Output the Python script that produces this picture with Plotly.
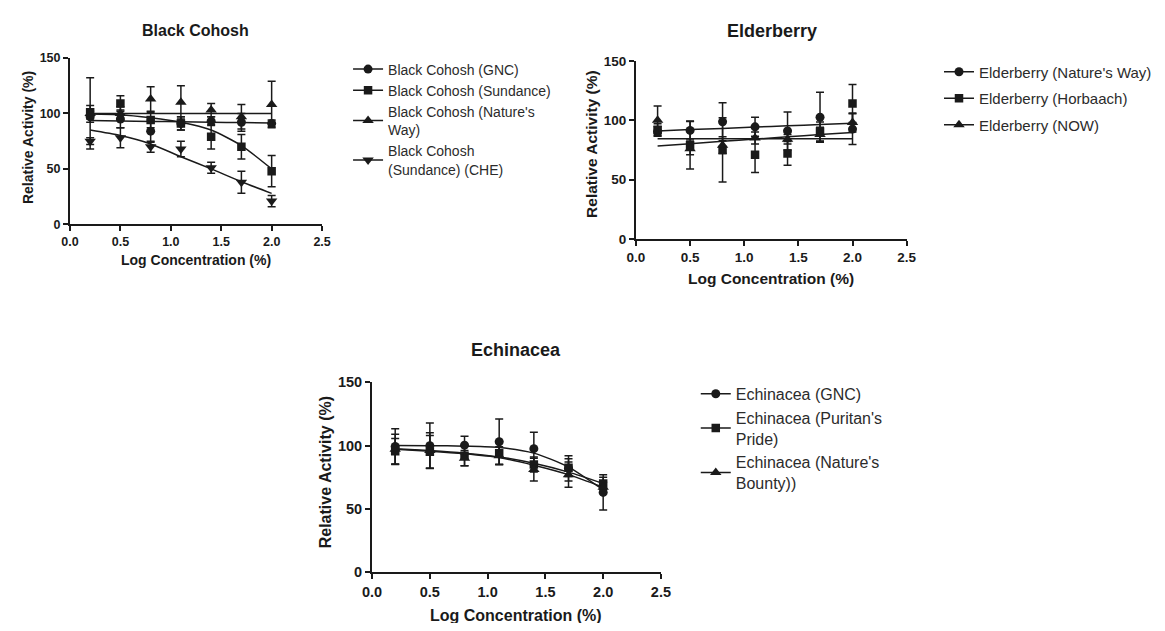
import plotly.graph_objects as go

# ---------------- data ----------------
log_conc = [0.2, 0.5, 0.8, 1.1, 1.4, 1.7, 2.0]
x_ticks = [0.0, 0.5, 1.0, 1.5, 2.0, 2.5]
y_ticks = [0, 50, 100, 150]

panel_titles = ["Black Cohosh", "Elderberry", "Echinacea"]
x_title = "Log Concentration (%)"
y_title = "Relative Activity (%)"

# Black Cohosh
bc_names = ["Black Cohosh (GNC)", "Black Cohosh (Sundance)",
            "Black Cohosh (Nature's<br>Way)", "Black Cohosh<br>(Sundance) (CHE)"]
bc_gnc = [97, 95, 84, 91, 93, 92, 91]
bc_gnc_err = [5, 8, 10, 6, 4, 8, 3]
bc_gnc_fit = [93.5, 93.1, 92.8, 92.5, 92.1, 91.7, 91.3]
bc_sundance = [101, 109, 94, 91, 79, 70, 48]
bc_sundance_err = [6, 7, 7, 6, 11, 11, 14]
bc_sundance_fit = [99.5, 98.8, 96.0, 92.0, 85.0, 71.0, 50.0]
bc_natures = [100, 100, 113, 110, 103, 97, 108]
bc_natures_err = [32, 6, 11, 15, 6, 11, 21]
bc_natures_fit = [100, 100, 100, 100, 100, 100, 100]
bc_che = [75, 78, 70, 68, 51, 38, 21]
bc_che_err = [3, 9, 5, 7, 5, 10, 5]
bc_che_fit = [85.0, 80.0, 72.5, 61.0, 50.0, 38.5, 28.0]

# Elderberry
el_names = ["Elderberry (Nature's Way)", "Elderberry (Horbaach)", "Elderberry (NOW)"]
el_natures = [90.5, 91.4, 98.7, 94.4, 91, 102.5, 92.5]
el_natures_err = [4, 8, 16, 8, 16, 21, 13]
el_natures_fit = [91.0, 92.1, 93.1, 94.2, 95.3, 96.4, 97.5]
el_horbaach = [92, 79, 75, 71, 72, 90.5, 114]
el_horbaach_err = [5, 20, 27, 15, 10, 8, 16]
el_horbaach_fit = [84.5, 84.5, 84.5, 84.5, 84.5, 84.5, 84.5]
el_now = [100, 76, 79, 85, 84, 88, 98]
el_now_err = [12, 5, 7, 5, 4, 6, 8]
el_now_fit = [78.3, 80.2, 82.2, 84.1, 86.0, 87.9, 89.7]

# Echinacea
ec_names = ["Echinacea (GNC)", "Echinacea (Puritan's<br>Pride)",
            "Echinacea (Nature's<br>Bounty))"]
ec_gnc = [99.3, 99.8, 100.3, 103, 97.5, 82, 63]
ec_gnc_err = [14, 18, 7, 18, 13, 10, 14]
ec_gnc_fit = [100.0, 99.9, 99.5, 98.5, 94.0, 83.0, 65.0]
ec_puritan = [95.5, 95, 92, 94, 85, 82.5, 70]
ec_puritan_err = [10, 13, 8, 9, 6, 7, 5]
ec_puritan_fit = [97.5, 96.0, 94.0, 91.0, 86.0, 79.0, 70.0]
ec_bounty = [97, 96, 90, 92, 81, 77, 67]
ec_bounty_err = [12, 14, 6, 7, 9, 10, 4]
ec_bounty_fit = [97.0, 95.5, 93.5, 90.5, 84.5, 77.0, 67.0]

# ---------------- style ----------------
FONT = "Liberation Sans, Arial, Helvetica, sans-serif"
INK = "#1a1a1a"
LEG_INK = "#2b2b2b"
# the page body keeps its default 8px margin: figure sits at (8, 8), 1149x615
OFF = 8
W, H = 1149, 615


def fx(p):
    return (p - OFF) / W


def fy(p):
    return 1 - (p - OFF) / H


symbols4 = ["circle", "square", "triangle-up", "triangle-down"]
sizes4 = [9, 8.5, 10, 10]

fig = go.Figure()


def add_panel(idx, names, means, errs, fits, legend_id, grouped):
    xa = "x" if idx == 1 else f"x{idx}"
    ya = "y" if idx == 1 else f"y{idx}"
    for i, (name, m, e, f) in enumerate(zip(names, means, errs, fits)):
        sym, sz = symbols4[i], sizes4[i]
        fig.add_trace(go.Scatter(
            x=log_conc, y=f, mode="lines", xaxis=xa, yaxis=ya,
            line=dict(color=INK, width=1.5, shape="spline", smoothing=0.7),
            showlegend=False, hoverinfo="skip"))
        fig.add_trace(go.Scatter(
            x=log_conc, y=m, mode="markers", xaxis=xa, yaxis=ya,
            marker=dict(symbol=sym, size=sz, color=INK, line=dict(width=0)),
            error_y=dict(type="data", array=e, visible=True, color=INK,
                         thickness=1.5, width=4),
            showlegend=False, name=name.replace("<br>", " ")))
        extra = dict(legendgroup=f"{legend_id}_{i}") if grouped else {}
        fig.add_trace(go.Scatter(
            x=[None], y=[None], mode="lines+markers", xaxis=xa, yaxis=ya,
            name=name, legend=legend_id,
            line=dict(color=INK, width=1.5),
            marker=dict(symbol=sym, size=sz, color=INK), **extra))


add_panel(1, bc_names,
          [bc_gnc, bc_sundance, bc_natures, bc_che],
          [bc_gnc_err, bc_sundance_err, bc_natures_err, bc_che_err],
          [bc_gnc_fit, bc_sundance_fit, bc_natures_fit, bc_che_fit], "legend", False)
add_panel(2, el_names,
          [el_natures, el_horbaach, el_now],
          [el_natures_err, el_horbaach_err, el_now_err],
          [el_natures_fit, el_horbaach_fit, el_now_fit], "legend2", True)
add_panel(3, ec_names,
          [ec_gnc, ec_puritan, ec_bounty],
          [ec_gnc_err, ec_puritan_err, ec_bounty_err],
          [ec_gnc_fit, ec_puritan_fit, ec_bounty_fit], "legend3", False)

# plot-area pixel boxes in the page: (left, right, top, bottom)
boxes = [(61, 318, 51, 222), (638, 914, 54, 237), (369, 663.5, 384, 579)]
tick_sizes = [12.5, 13.5, 14.5]
axis_title_sizes = [14, 15.5, 16]
title_sizes = [16, 18, 18]
legend_sizes = [14, 15, 16]


def xaxis_cfg(box, fs):
    l, r, t, b = box
    return dict(domain=[fx(l), fx(r)], range=[0, 2.5], tickvals=x_ticks,
                tickformat=".1f", showline=True, linecolor=INK, linewidth=2,
                ticks="outside", ticklen=5, tickwidth=2, tickcolor=INK,
                showgrid=False, zeroline=False, fixedrange=True,
                tickfont=dict(family=FONT, size=fs, color=INK, weight="bold"))


def yaxis_cfg(box, fs, anchor):
    l, r, t, b = box
    return dict(domain=[fy(b), fy(t)], range=[0, 150], tickvals=y_ticks,
                showline=True, linecolor=INK, linewidth=2, anchor=anchor,
                ticks="outside", ticklen=5, tickwidth=2, tickcolor=INK,
                showgrid=False, zeroline=False, fixedrange=True,
                tickfont=dict(family=FONT, size=fs, color=INK, weight="bold"))


layout = dict(
    width=W, height=H, autosize=False, margin=dict(l=0, r=0, t=0, b=0),
    paper_bgcolor="white", plot_bgcolor="white",
    font=dict(family=FONT, color=INK),
    showlegend=True,
)
for i, box in enumerate(boxes):
    k = "" if i == 0 else str(i + 1)
    xaxis_d = xaxis_cfg(box, tick_sizes[i])
    xaxis_d["anchor"] = "y" + k
    layout["xaxis" + k] = xaxis_d
    layout["yaxis" + k] = yaxis_cfg(box, tick_sizes[i], "x" + k)

# legends: (left edge, top edge) in page pixels
legend_pos = [(344.5, 46.5), (947, 48.5), (699, 378.5)]
for i, (lx, ly) in enumerate(legend_pos):
    k = "legend" if i == 0 else f"legend{i + 1}"
    layout[k] = dict(x=fx(lx), y=fy(ly), xanchor="left", yanchor="top",
                     bgcolor="rgba(0,0,0,0)", borderwidth=0,
                     font=dict(family=FONT, size=legend_sizes[i], color=LEG_INK),
                     itemclick=False, itemdoubleclick=False)
layout["legend2"]["tracegroupgap"] = 4

fig.update_layout(**layout)

# titles and axis titles as annotations (page pixels)
title_pos = [(189, 22.5), (777, 23), (515.5, 351)]
xtitle_pos = [(189, 258.5), (776, 278), (516, 623)]
ytitle_pos = [(18, 132.5), (592.5, 139), (321.5, 476)]
anns = []
for i in range(3):
    tx, ty = title_pos[i]
    anns.append(dict(x=fx(tx), y=fy(ty), xref="paper", yref="paper",
                     text=panel_titles[i], showarrow=False,
                     xanchor="center", yanchor="middle",
                     font=dict(family=FONT, size=title_sizes[i], color=INK, weight="bold")))
    ax_, ay_ = xtitle_pos[i]
    anns.append(dict(x=fx(ax_), y=fy(ay_), xref="paper", yref="paper",
                     text=x_title, showarrow=False,
                     xanchor="center", yanchor="middle",
                     font=dict(family=FONT, size=axis_title_sizes[i], color=INK, weight="bold")))
    yx, yy = ytitle_pos[i]
    anns.append(dict(x=fx(yx), y=fy(yy), xref="paper", yref="paper",
                     text=y_title, showarrow=False, textangle=-90,
                     xanchor="center", yanchor="middle",
                     font=dict(family=FONT, size=axis_title_sizes[i], color=INK, weight="bold")))
fig.update_layout(annotations=anns)

fig.write_html("out.html", config={"displayModeBar": False})
